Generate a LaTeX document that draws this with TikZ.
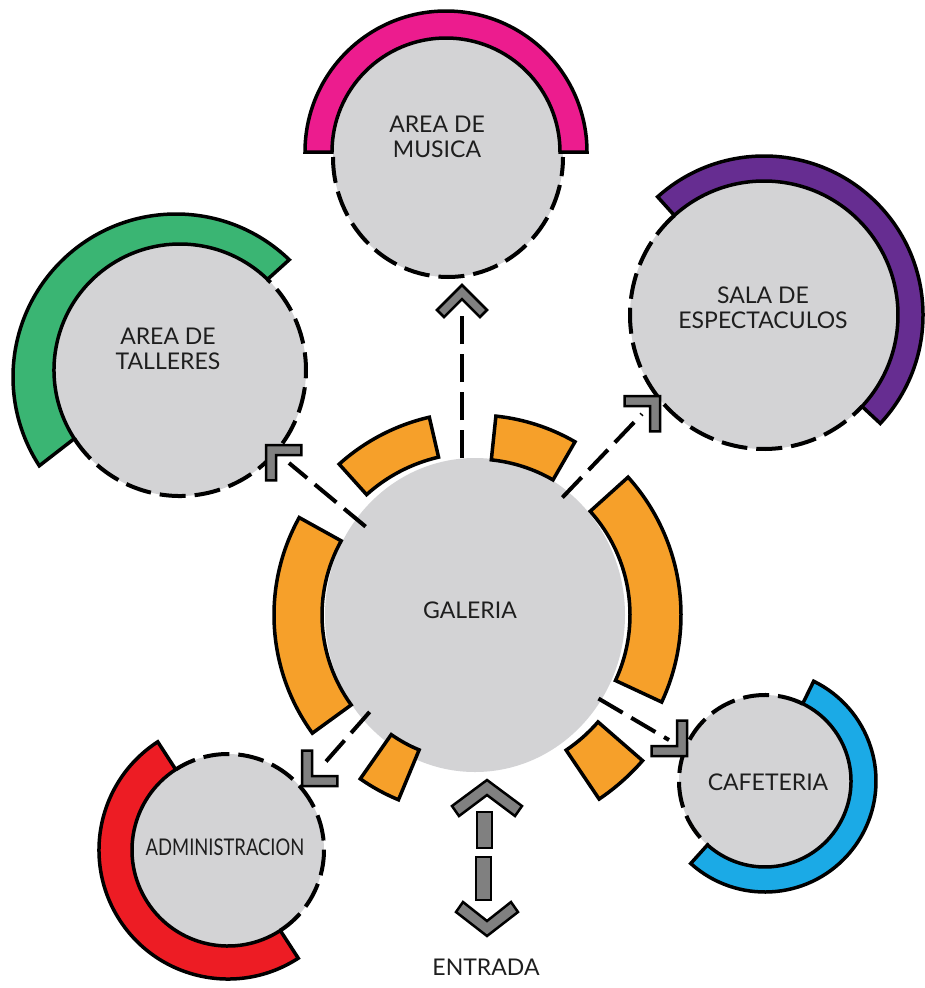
\documentclass[tikz,border=0pt]{standalone}
\usepackage{fontspec}
\setmainfont{Lato}
\usetikzlibrary{calc,shapes.geometric}
\definecolor{grayfill}{RGB}{211,211,213}
\definecolor{chevgray}{RGB}{128,128,128}
\definecolor{orangec}{RGB}{246,160,42}
\definecolor{pinkc}{RGB}{236,28,142}
\definecolor{purplec}{RGB}{102,45,145}
\definecolor{greenc}{RGB}{58,181,115}
\definecolor{bluec}{RGB}{27,170,230}
\definecolor{redc}{RGB}{237,28,36}
\definecolor{textcol}{RGB}{30,30,30}
% band: inner centre, outer centre, from angle, to angle, inner r, outer r, colour
\newcommand\annbandx[7]{%
  \pgfmathsetmacro\bandA{-(#3)}\pgfmathsetmacro\bandB{-(#4)}%
  \filldraw[band,fill=#7] ($(#2)+(\bandA:#6)$) arc[start angle=\bandA,end angle=\bandB,radius=#6]
    -- ($(#1)+(\bandB:#5)$) arc[start angle=\bandB,end angle=\bandA,radius=#5] -- cycle;}
\newcommand\annband[6]{\annbandx{#1}{#1}{#2}{#3}{#4}{#5}{#6}}
\newcommand\dasharc[4]{%
  \pgfmathsetmacro\dashA{-(#2)}\pgfmathsetmacro\dashB{-(#3)}%
  \draw[dashc] ($(#1)+(\dashA:#4)$) arc[start angle=\dashA,end angle=\dashB,radius=#4];}
\newcommand\chevmark[2]{%
  \filldraw[chev,shift={(#1)},rotate={(#2)-90}] (0,0) -- (25,25) -- (17.93,32.07) -- (0,14.14)
    -- (-17.93,32.07) -- (-25,25) -- cycle;}
\begin{document}
\begin{tikzpicture}[x=1pt,y=-1pt,
  band/.style={draw=black,line width=3.5pt,line join=miter},
  dashc/.style={draw=black,line width=4pt,dash pattern=on 26pt off 9pt},
  conn/.style={draw=black,line width=4pt,dash pattern=on 28pt off 10pt},
  chev/.style={fill=chevgray,draw=black,line width=2.5pt,line join=miter},
  room/.style={fill=grayfill,circle,inner sep=0pt,outer sep=0pt},
  roomell/.style={fill=grayfill,ellipse,inner sep=0pt,outer sep=0pt},
  lbl/.style={font=\fontsize{23}{25}\selectfont,align=center,text=textcol,inner sep=0pt}]
\useasboundingbox (0,0) rectangle (924,988);
% rooms
\node[roomell,minimum width=300pt,minimum height=314pt] (gal) at (475,615) {};
\node[roomell,minimum width=230pt,minimum height=240pt] (mus) at (448,157) {};
\node[room,minimum size=268pt] (sal) at (764,315) {};
\node[room,minimum size=252pt] (tal) at (180,370) {};
\node[room,minimum size=172pt] (caf) at (765,781) {};
\node[room,minimum size=192pt] (adm) at (228,850) {};
% connectors
\coordinate (tM) at (462,312);
\coordinate (tS) at (642,414);
\coordinate (tT) at (289,463);
\coordinate (tC) at (669,740);
\coordinate (tA) at (322,766);
\draw[conn] (tM |- gal.north) -- (tM);
\draw[conn,shorten <=-8pt] (gal.53) -- (tS);
\draw[conn,shorten <=-12pt] (gal.141) -- (tT);
\draw[conn,shorten <=-10pt] (gal.223) -- (tA);
\draw[conn,shorten <=-3pt] (gal.-34) -- (tC);
% coloured bands
\coordinate (musb) at (446,152);
\coordinate (talo) at (176,377);
\annband{musb}{0}{180}{114}{141}{pinkc}
\annband{sal}{-43}{132}{134}{159}{purplec}
\annbandx{tal}{talo}{46}{213}{126}{163}{greenc}
\annband{caf}{-132}{64}{86}{111}{bluec}
\annband{adm}{123}{303}{96}{129}{redc}
% orange segments around the gallery
\annband{gal}{151}{216}{153}{201}{orangec}
\annband{gal}{-25}{42}{155}{206}{orangec}
\annband{gal}{103}{132}{162}{203}{orangec}
\annband{gal}{60}{84}{156}{200}{orangec}
\annband{gal}{235}{247.5}{146}{200}{orangec}
\annband{gal}{-56}{-41}{163}{222}{orangec}
% dashed outlines
\draw[dashc] ($(mus)+(-180:115 and 120)$) arc[start angle=-180,end angle=-360,x radius=115,y radius=120];
\dasharc{sal}{132}{317}{134}
\dasharc{tal}{213}{406}{126}
\dasharc{caf}{64}{228}{86}
\dasharc{adm}{303}{483}{96}
% chevrons
\coordinate (chM) at (462,285);
\coordinate (chS) at (660,396);
\coordinate (chT) at (266,445);
\coordinate (chC) at (687,756);
\coordinate (chA) at (302,786);
\chevmark{chM}{90}
\chevmark{chS}{45}
\chevmark{chT}{135}
\chevmark{chC}{-45}
\chevmark{chA}{225}
% entrance arrow
\filldraw[chev] (487,780) -- (522,806) -- (515,816) -- (487,795) -- (459,816) -- (452,806) -- cycle;
\filldraw[chev] (477,812) rectangle (492,848);
\filldraw[chev] (476,857) rectangle (491,900);
\filldraw[chev] (487,936) -- (518,912) -- (511,902) -- (487,921) -- (463,902) -- (456,912) -- cycle;
% labels
\node[lbl] (lmus) at (437,137) {AREA DE\\MUSICA};
\node[lbl] (lsal) at (763,308) {SALA DE\\ESPECTACULOS};
\node[lbl] (ltal) at (168,349) {AREA DE\\TALLERES};
\node[lbl] (lcaf) at (768,782) {CAFETERIA};
\node[lbl,xscale=0.8] (ladm) at (225,847) {ADMINISTRACION};
\node[lbl] (lgal) at (470,610) {GALERIA};
\node[lbl] (lent) at (486,967) {ENTRADA};
\end{tikzpicture}
\end{document}
